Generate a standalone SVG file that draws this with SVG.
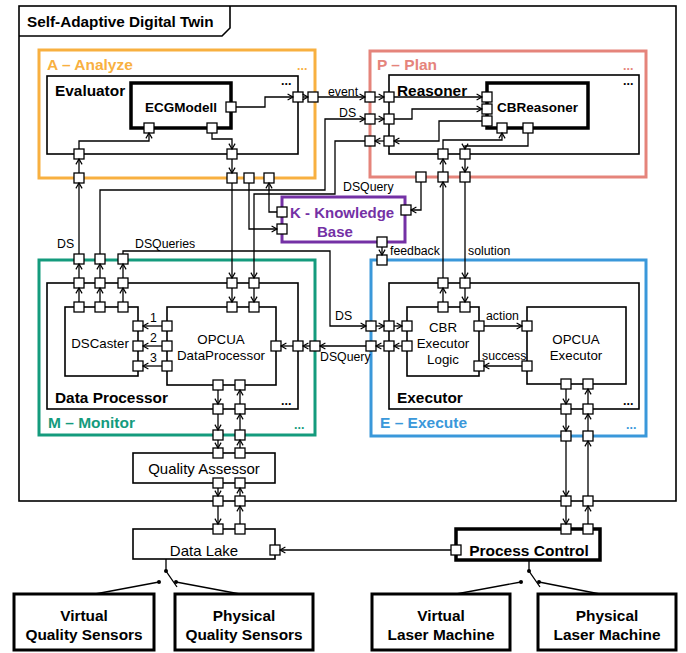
<svg xmlns="http://www.w3.org/2000/svg" xmlns:xlink="http://www.w3.org/1999/xlink" width="686" height="653" viewBox="0 0 686 653">
  <style>
    text { font-family: "Liberation Sans", Arial, sans-serif; fill: #000; }
    .box { fill: none; stroke: #000; stroke-width: 1.6; }
    .thick { fill: none; stroke: #000; stroke-width: 3.5; }
    .solid { fill: #fff; stroke: #000; stroke-width: 3; }
    .port { fill: #fff; stroke: #000; stroke-width: 1.3; }
    .wire { fill: none; stroke: #000; stroke-width: 1.3; marker-end: url(#arr); }
    .line { fill: none; stroke: #000; stroke-width: 1.3; }
    .sec { font-weight: bold; font-size: 15.5px; }
    .hd { font-weight: bold; font-size: 15.4px; }
    .comp { font-weight: bold; font-size: 13.5px; }
    .n { font-size: 13.3px; }
    .n15 { font-size: 15px; }
    .lbl { font-size: 12.3px; }
    .dots { font-weight: bold; font-size: 12.5px; }
    .mid { text-anchor: middle; }
  </style>
  <defs>
    <marker id="arr" markerWidth="8" markerHeight="8" refX="6" refY="4" orient="auto" markerUnits="userSpaceOnUse">
      <path d="M0.6,0.9 L6,4 L0.6,7.1" fill="none" stroke="#000" stroke-width="1.2"/>
    </marker>
    <rect id="p" x="-5" y="-5" width="10" height="10" class="port"/>
  </defs>

  <rect width="686" height="653" fill="#fff"/>

  <!-- outer system frame -->
  <g id="digital-twin">
    <rect x="19" y="6" width="657" height="495" class="box"/>
    <path d="M19,36 H222 L230,28 V6" class="box"/>
    <text x="27" y="26.5" class="hd" style="font-size:15.3px">Self-Adaptive Digital Twin</text>
    <use href="#p" x="218" y="501"/><use href="#p" x="240" y="501"/>
    <use href="#p" x="566" y="501"/><use href="#p" x="588" y="501"/>
  </g>

  <!-- MAPE-K: Analyze -->
  <g id="analyze">
    <rect x="39" y="50" width="276" height="128" fill="none" stroke="#F8B040" stroke-width="3"/>
    <text x="47" y="69.5" class="sec" style="fill:#F8B040">A – Analyze</text>
    <text x="297" y="70" class="dots" style="fill:#F8B040">...</text>
    <use href="#p" x="313" y="97"/>
    <use href="#p" x="79" y="178"/><use href="#p" x="232" y="178"/>
    <use href="#p" x="249" y="178"/><use href="#p" x="269" y="178"/>
  </g>
  <g id="evaluator">
    <rect x="47" y="76" width="251" height="78" class="box"/>
    <text x="55" y="95.5" class="hd">Evaluator</text>
    <text x="281" y="85" class="dots">...</text>
    <use href="#p" x="298" y="97"/>
    <use href="#p" x="79" y="154"/><use href="#p" x="232" y="154"/>
  </g>
  <g id="ecgmodell">
    <rect x="131" y="83" width="100" height="45" class="thick"/>
    <text x="181" y="112" class="comp mid">ECGModell</text>
    <use href="#p" x="231" y="107"/>
    <use href="#p" x="149" y="128"/><use href="#p" x="212" y="128"/>
  </g>

  <!-- MAPE-K: Plan -->
  <g id="plan">
    <rect x="370" y="51" width="276" height="126" fill="none" stroke="#E5847B" stroke-width="3"/>
    <text x="377" y="69.5" class="sec" style="fill:#E5847B">P – Plan</text>
    <text x="623" y="70" class="dots" style="fill:#E5847B">...</text>
    <use href="#p" x="370" y="97"/><use href="#p" x="370" y="119"/><use href="#p" x="370" y="141"/>
    <use href="#p" x="421" y="177"/><use href="#p" x="443" y="177"/><use href="#p" x="465" y="177"/>
  </g>
  <g id="reasoner">
    <rect x="389" y="75" width="250" height="79" class="box"/>
    <text x="397" y="95.5" class="hd">Reasoner</text>
    <text x="623" y="85" class="dots">...</text>
    <use href="#p" x="389" y="97"/><use href="#p" x="389" y="119"/><use href="#p" x="389" y="141"/>
    <use href="#p" x="443" y="154"/><use href="#p" x="465" y="154"/>
  </g>
  <g id="cbreasoner">
    <rect x="487" y="83" width="101" height="45" class="thick"/>
    <text x="497" y="112" class="comp">CBReasoner</text>
    <use href="#p" x="487" y="97"/><use href="#p" x="487" y="109"/><use href="#p" x="487" y="121"/>
    <use href="#p" x="502" y="128"/><use href="#p" x="528" y="128"/>
  </g>

  <!-- MAPE-K: Knowledge -->
  <g id="knowledge-base">
    <rect x="282" y="197" width="123" height="45" fill="none" stroke="#7431A5" stroke-width="3"/>
    <text x="290" y="217.5" class="sec" style="fill:#7431A5;font-size:15px">K - Knowledge</text>
    <text x="317" y="236.5" class="sec" style="fill:#7431A5;font-size:15px">Base</text>
    <use href="#p" x="282" y="212"/><use href="#p" x="282" y="229"/>
    <use href="#p" x="406" y="210"/><use href="#p" x="382" y="242"/>
  </g>

  <!-- MAPE-K: Monitor -->
  <g id="monitor">
    <rect x="39" y="260" width="276" height="175" fill="none" stroke="#149B7D" stroke-width="3"/>
    <text x="48" y="427.5" class="sec" style="fill:#149B7D">M – Monitor</text>
    <text x="294" y="429" class="dots" style="fill:#149B7D">...</text>
    <use href="#p" x="79" y="259"/><use href="#p" x="100" y="259"/><use href="#p" x="123" y="259"/>
    <use href="#p" x="315" y="346"/>
    <use href="#p" x="218" y="435"/><use href="#p" x="240" y="435"/>
  </g>
  <g id="data-processor">
    <rect x="47" y="283" width="251" height="126" class="box"/>
    <text x="55" y="402.5" class="hd">Data Processor</text>
    <text x="281" y="405" class="dots">...</text>
    <use href="#p" x="79" y="283"/><use href="#p" x="100" y="283"/><use href="#p" x="123" y="283"/>
    <use href="#p" x="232" y="283"/><use href="#p" x="254" y="283"/>
    <use href="#p" x="298" y="346"/>
    <use href="#p" x="218" y="409"/><use href="#p" x="240" y="409"/>
  </g>
  <g id="dscaster">
    <rect x="65" y="307" width="73" height="69" class="box"/>
    <text x="100" y="348" class="n mid">DSCaster</text>
    <use href="#p" x="79" y="307"/><use href="#p" x="100" y="307"/><use href="#p" x="123" y="307"/>
    <use href="#p" x="138" y="326"/><use href="#p" x="138" y="346"/><use href="#p" x="138" y="366"/>
  </g>
  <g id="opcua-dataprocessor">
    <rect x="167" y="307" width="109" height="78" class="box"/>
    <text x="221" y="344" class="n mid">OPCUA</text>
    <text x="221" y="359.5" class="n mid">DataProcessor</text>
    <use href="#p" x="232" y="307"/><use href="#p" x="254" y="307"/>
    <use href="#p" x="167" y="326"/><use href="#p" x="167" y="346"/><use href="#p" x="167" y="366"/>
    <use href="#p" x="276" y="346"/>
    <use href="#p" x="218" y="385"/><use href="#p" x="240" y="385"/>
  </g>

  <!-- MAPE-K: Execute -->
  <g id="execute">
    <rect x="371" y="260" width="275" height="176" fill="none" stroke="#3A98DA" stroke-width="3"/>
    <text x="380" y="427.5" class="sec" style="fill:#3A98DA">E – Execute</text>
    <text x="626" y="429" class="dots" style="fill:#3A98DA">...</text>
    <use href="#p" x="382" y="260"/>
    <use href="#p" x="371" y="326"/><use href="#p" x="371" y="346"/>
    <use href="#p" x="566" y="436"/><use href="#p" x="588" y="436"/>
  </g>
  <g id="executor">
    <rect x="389" y="283" width="250" height="126" class="box"/>
    <text x="397" y="402.5" class="hd">Executor</text>
    <text x="623" y="405" class="dots">...</text>
    <use href="#p" x="443" y="283"/><use href="#p" x="465" y="283"/>
    <use href="#p" x="389" y="326"/><use href="#p" x="389" y="346"/>
    <use href="#p" x="566" y="409"/><use href="#p" x="588" y="409"/>
  </g>
  <g id="cbr-executor-logic">
    <rect x="407" y="307" width="72" height="69" class="box"/>
    <text x="443" y="332" class="n mid">CBR</text>
    <text x="443" y="348" class="n mid">Executor</text>
    <text x="443" y="364" class="n mid">Logic</text>
    <use href="#p" x="443" y="307"/><use href="#p" x="465" y="307"/>
    <use href="#p" x="407" y="326"/><use href="#p" x="407" y="346"/>
    <use href="#p" x="479" y="326"/><use href="#p" x="479" y="366"/>
  </g>
  <g id="opcua-executor">
    <rect x="527" y="307" width="99" height="77" class="box"/>
    <text x="576" y="344" class="n mid">OPCUA</text>
    <text x="576" y="359.5" class="n mid">Executor</text>
    <use href="#p" x="527" y="326"/><use href="#p" x="527" y="366"/>
    <use href="#p" x="566" y="384"/><use href="#p" x="588" y="384"/>
  </g>

  <!-- outside the twin -->
  <g id="quality-assessor">
    <rect x="133" y="453" width="142" height="30" class="box"/>
    <text x="204" y="473.5" class="n15 mid">Quality Assessor</text>
    <use href="#p" x="218" y="453"/><use href="#p" x="240" y="453"/>
    <use href="#p" x="218" y="483"/><use href="#p" x="240" y="483"/>
  </g>
  <g id="data-lake">
    <rect x="133" y="529" width="142" height="30" class="box"/>
    <text x="204" y="555.5" class="n15 mid">Data Lake</text>
    <use href="#p" x="218" y="529"/><use href="#p" x="240" y="529"/>
    <use href="#p" x="275" y="550"/>
  </g>
  <g id="process-control">
    <rect x="456" y="529" width="144" height="31" class="thick"/>
    <text x="529" y="556" class="hd mid" style="font-size:15.5px">Process Control</text>
    <use href="#p" x="566" y="529"/><use href="#p" x="588" y="529"/>
    <use href="#p" x="456" y="550"/>
  </g>
  <g id="virtual-quality-sensors">
    <rect x="14" y="594" width="140" height="56" class="solid"/>
    <text x="84" y="620.5" class="hd mid">Virtual</text>
    <text x="84" y="640" class="hd mid">Quality Sensors</text>
  </g>
  <g id="physical-quality-sensors">
    <rect x="175" y="594" width="138" height="56" class="solid"/>
    <text x="244" y="620.5" class="hd mid">Physical</text>
    <text x="244" y="640" class="hd mid">Quality Sensors</text>
  </g>
  <g id="virtual-laser-machine">
    <rect x="372" y="594" width="138" height="56" class="solid"/>
    <text x="441" y="620.5" class="hd mid">Virtual</text>
    <text x="441" y="640" class="hd mid">Laser Machine</text>
  </g>
  <g id="physical-laser-machine">
    <rect x="538" y="594" width="138" height="56" class="solid"/>
    <text x="607" y="620.5" class="hd mid">Physical</text>
    <text x="607" y="640" class="hd mid">Laser Machine</text>
  </g>

  <!-- connectors -->
  <g id="connectors">
    <!-- analyze internals -->
    <path d="M236,107 H265 V97 H293" class="wire"/>
    <path d="M303,97 H308" class="wire"/>
    <path d="M79,173 V159" class="wire"/>
    <path d="M79,149 V141 H149 V133" class="wire"/>
    <path d="M212,133 V139 H232 V149" class="wire"/>
    <path d="M232,159 V173" class="wire"/>
    <path d="M232,183 V278" class="wire"/>
    <path d="M232,288 V302" class="wire"/>
    <!-- event -->
    <path d="M318,97 H365" class="wire"/>
    <path d="M375,97 H384" class="wire"/>
    <path d="M394,97 H482" class="wire"/>
    <text x="328" y="96" class="lbl">event</text>
    <!-- DS to plan -->
    <path d="M100,254 V190 H325 V119 H365" class="wire"/>
    <path d="M375,119 H384" class="wire"/>
    <path d="M394,119 H412 V109 H482" class="wire"/>
    <text x="339" y="117" class="lbl">DS</text>
    <!-- query back to monitor -->
    <path d="M482,121 H439 V141 H394" class="wire"/>
    <path d="M384,141 H375" class="wire"/>
    <path d="M365,141 H335 V194 H254 V278" class="wire"/>
    <path d="M254,288 V302" class="wire"/>
    <!-- plan / execute -->
    <path d="M443,302 V288" class="wire"/>
    <path d="M443,278 V182" class="wire"/>
    <path d="M443,172 V159" class="wire"/>
    <path d="M443,149 V140 H502 V133" class="wire"/>
    <path d="M528,133 V146 H465 V149" class="wire"/>
    <path d="M465,159 V172" class="wire"/>
    <path d="M465,182 V278" class="wire"/>
    <path d="M465,288 V302" class="wire"/>
    <text x="468" y="255" class="lbl">solution</text>
    <!-- knowledge base -->
    <path d="M421,182 V210 H411" class="wire"/>
    <text x="343" y="191" class="lbl">DSQuery</text>
    <path d="M382,247 V255" class="wire"/>
    <text x="390" y="255" class="lbl">feedback</text>
    <path d="M249,183 V229 H277" class="wire"/>
    <path d="M277,212 H269 V183" class="wire"/>
    <!-- monitor outputs -->
    <path d="M79,302 V288" class="wire"/>
    <path d="M79,278 V264" class="wire"/>
    <path d="M79,254 V183" class="wire"/>
    <text x="57" y="248" class="lbl">DS</text>
    <path d="M100,302 V288" class="wire"/>
    <path d="M100,278 V264" class="wire"/>
    <path d="M123,302 V288" class="wire"/>
    <path d="M123,278 V264" class="wire"/>
    <path d="M123,254 V251 H330 V326 H366" class="wire"/>
    <text x="135" y="248" class="lbl">DSQueries</text>
    <text x="335" y="320" class="lbl">DS</text>
    <path d="M376,326 H384" class="wire"/>
    <path d="M394,326 H402" class="wire"/>
    <!-- DSQuery executor to data processor -->
    <path d="M402,346 H394" class="wire"/>
    <path d="M384,346 H376" class="wire"/>
    <path d="M366,346 H320" class="wire"/>
    <path d="M310,346 H303" class="wire"/>
    <path d="M293,346 H281" class="wire"/>
    <text x="320" y="361" class="lbl">DSQuery</text>
    <!-- data processor to caster -->
    <path d="M162,326 H143" class="wire"/>
    <path d="M162,346 H143" class="wire"/>
    <path d="M162,366 H143" class="wire"/>
    <text x="150" y="322" class="lbl">1</text>
    <text x="150" y="342" class="lbl">2</text>
    <text x="150" y="362" class="lbl">3</text>
    <!-- executor internals -->
    <path d="M484,326 H522" class="wire"/>
    <text x="486" y="319.5" class="lbl">action</text>
    <path d="M522,366 H484" class="wire"/>
    <text x="482" y="359.5" class="lbl">success</text>
    <!-- executor to process control -->
    <path d="M566,389 V404" class="wire"/>
    <path d="M566,414 V431" class="wire"/>
    <path d="M566,441 V496" class="wire"/>
    <path d="M566,506 V524" class="wire"/>
    <path d="M588,524 V506" class="wire"/>
    <path d="M588,496 V441" class="wire"/>
    <path d="M588,431 V414" class="wire"/>
    <path d="M588,404 V389" class="wire"/>
    <!-- data processor to quality assessor and data lake -->
    <path d="M218,390 V404" class="wire"/>
    <path d="M218,414 V430" class="wire"/>
    <path d="M218,440 V448" class="wire"/>
    <path d="M218,488 V496" class="wire"/>
    <path d="M218,506 V524" class="wire"/>
    <path d="M240,524 V506" class="wire"/>
    <path d="M240,496 V488" class="wire"/>
    <path d="M240,448 V440" class="wire"/>
    <path d="M240,430 V414" class="wire"/>
    <path d="M240,404 V390" class="wire"/>
    <!-- process control to data lake -->
    <path d="M451,550 H280" class="wire"/>
    <!-- sensor switch -->
    <path d="M166,559 V571 L177,587" class="line"/>
    <circle cx="166" cy="571" r="2"/>
    <path d="M159,582 L95,594" class="line"/>
    <circle cx="159" cy="582" r="2"/>
    <path d="M176,582 L240,594" class="line"/>
    <circle cx="176" cy="582" r="2"/>
    <!-- machine switch -->
    <path d="M529,560 V571 L540,587" class="line"/>
    <circle cx="529" cy="571" r="2"/>
    <path d="M521,582 L456,594" class="line"/>
    <circle cx="521" cy="582" r="2"/>
    <path d="M539,582 L600,594" class="line"/>
    <circle cx="539" cy="582" r="2"/>
  </g>
</svg>
